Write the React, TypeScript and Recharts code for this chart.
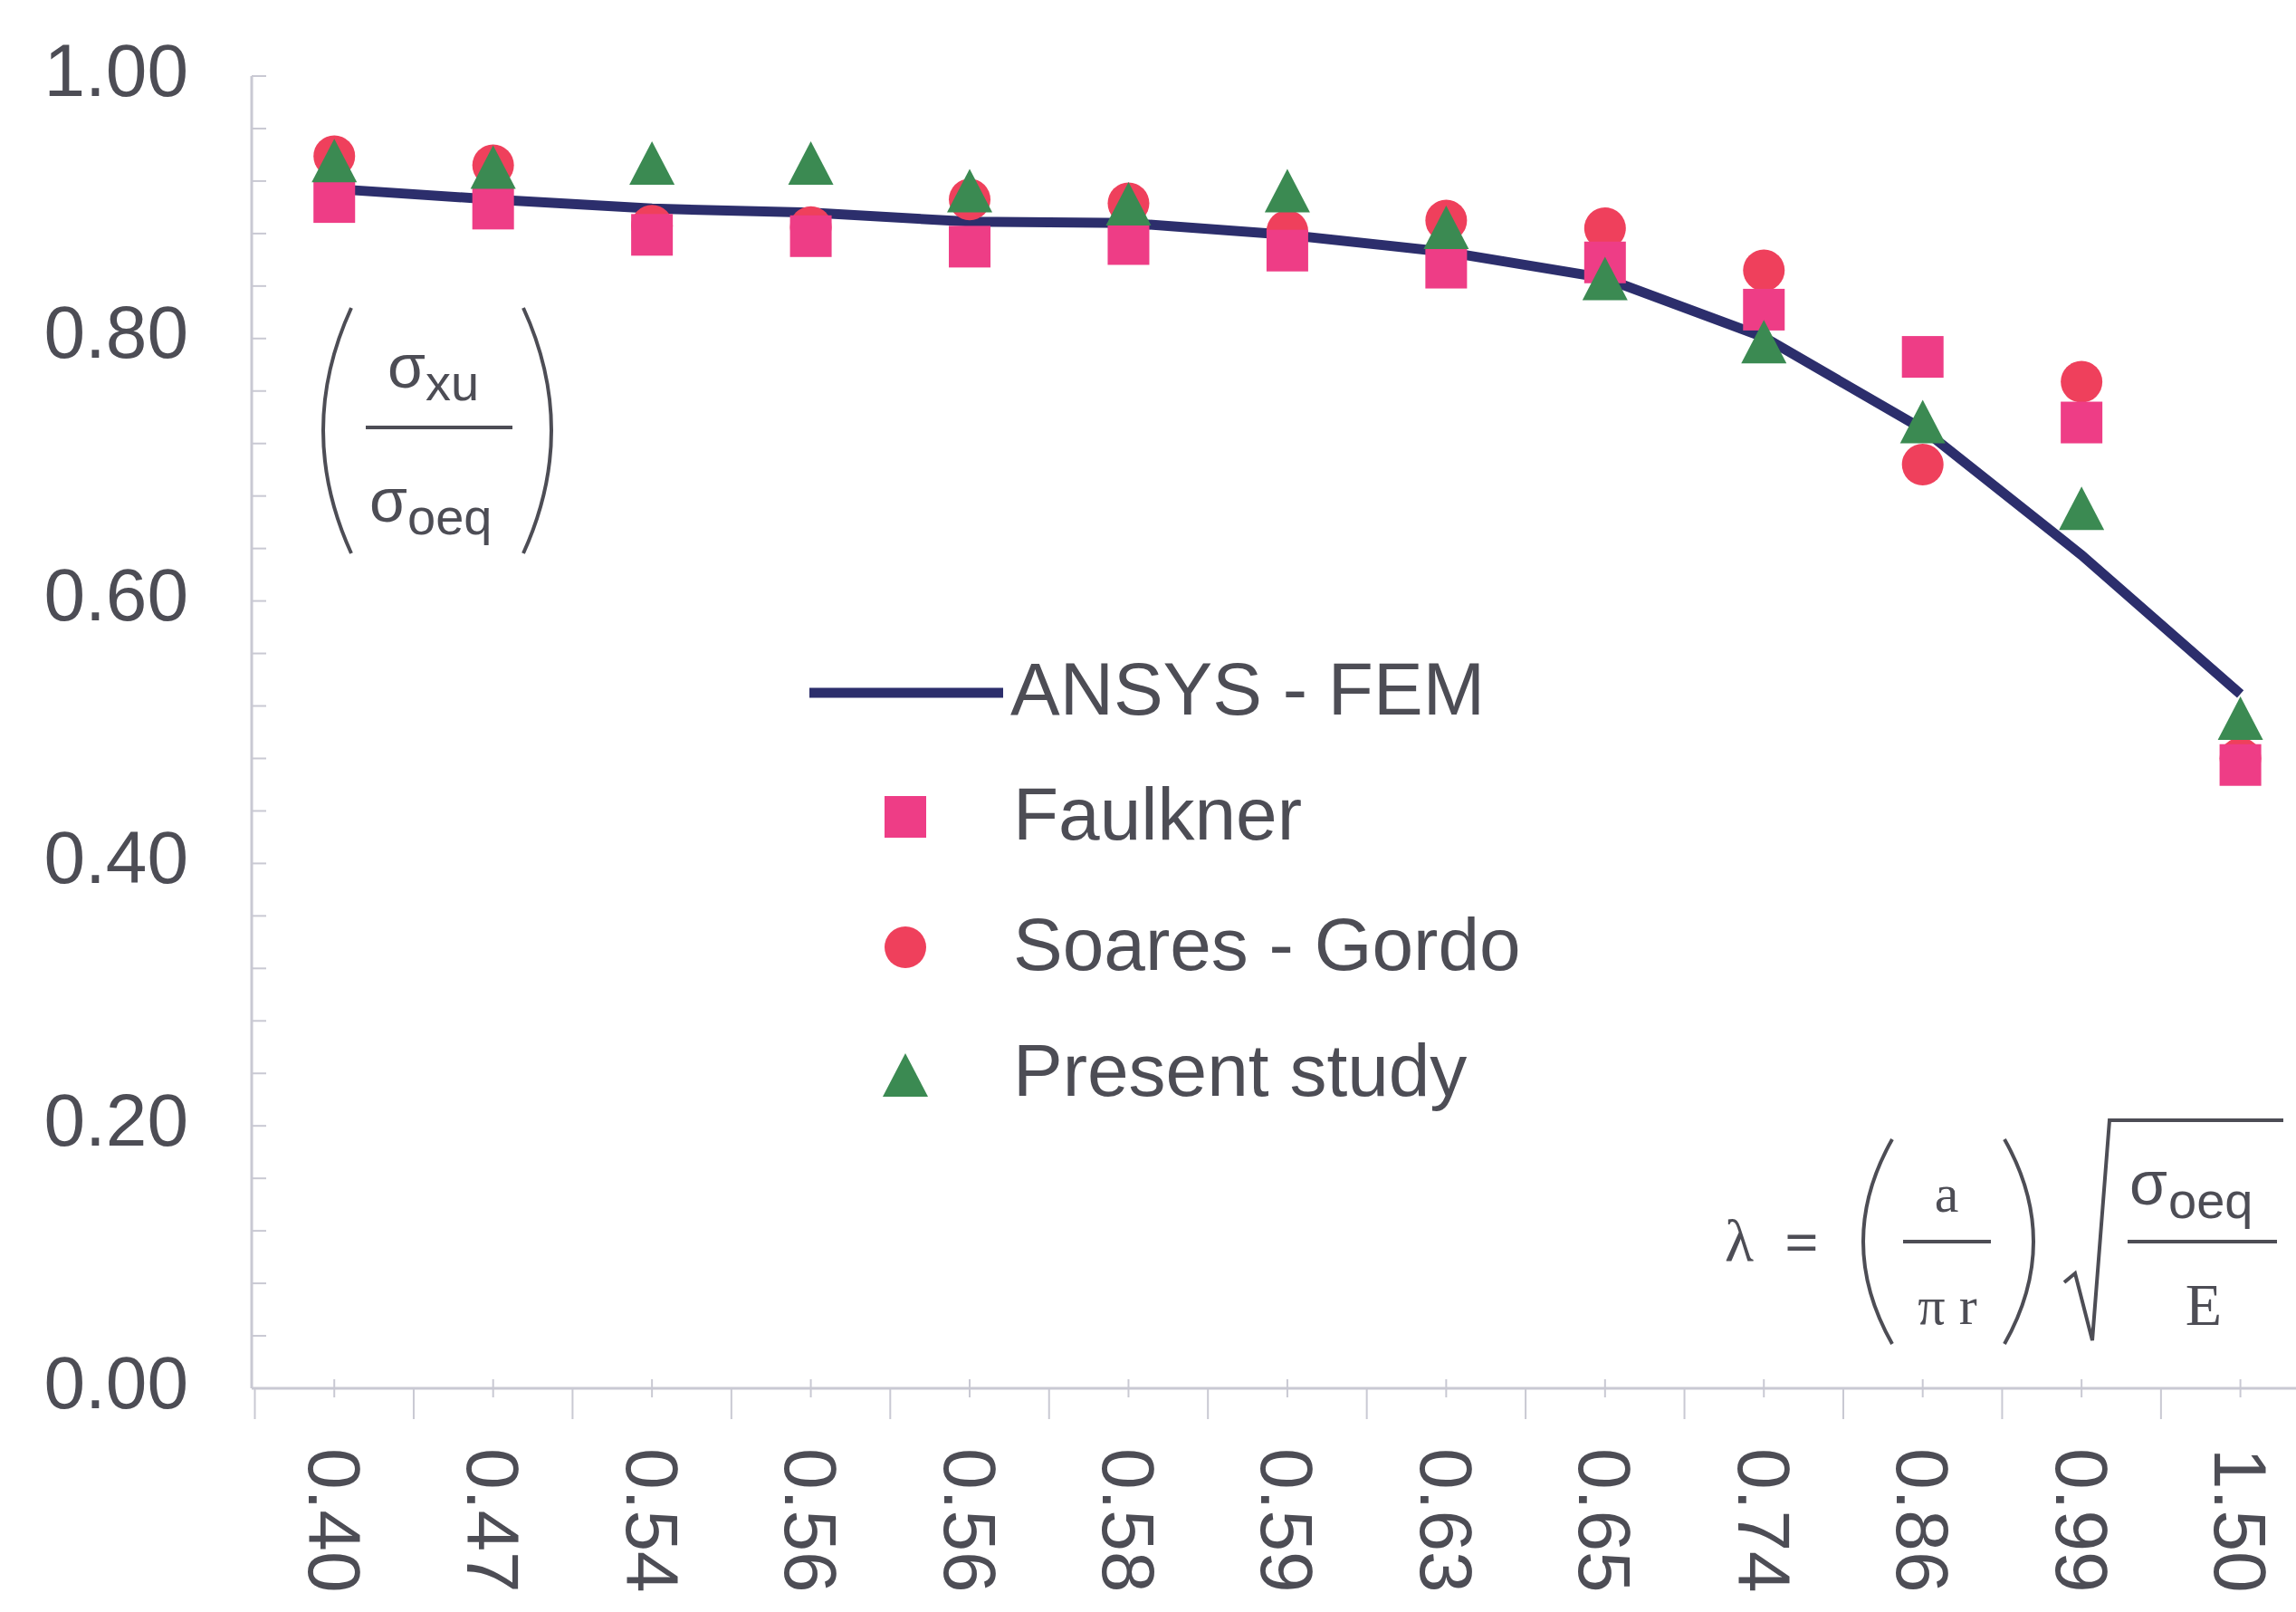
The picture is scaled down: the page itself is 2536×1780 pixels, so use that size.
import React from 'react';
import { ComposedChart, Line, Scatter, XAxis, YAxis } from 'recharts';

// slenderness values along the x axis (categorical, two 0.56 entries)
const CATEGORIES = ['0.40', '0.47', '0.54', '0.56', '0.56', '0.58', '0.59', '0.63', '0.65', '0.74', '0.86', '0.99', '1.50'];

const ANSYS = [0.914, 0.906, 0.899, 0.896, 0.889, 0.888, 0.879, 0.866, 0.846, 0.801, 0.731, 0.635, 0.529];
const FAULKNER = [0.904, 0.899, 0.879, 0.878, 0.870, 0.872, 0.867, 0.854, 0.858, 0.822, 0.786, 0.736, 0.475];
const SOARES = [0.939, 0.932, 0.886, 0.885, 0.906, 0.903, 0.882, 0.890, 0.884, 0.852, 0.704, 0.767, 0.480];
const PRESENT = [0.935, 0.930, 0.933, 0.933, 0.912, 0.902, 0.912, 0.884, 0.845, 0.797, 0.736, 0.670, 0.510];

const Y_MAJOR = [0, 0.2, 0.4, 0.6, 0.8, 1.0];
const Y_MINOR_STEP = 0.04;

const W = 2536;
const H = 1780;

const NAVY = '#2c2e6c';
const PINK = '#ee3d86';
const RED = '#ef405c';
const GREEN = '#3b8a52';
const TEXT = '#4d4d55';
const AXIS = '#c9c9d3';
const FONT = '"Liberation Sans", Arial, sans-serif';
const SERIF = '"Liberation Serif", "Times New Roman", serif';

const data = CATEGORIES.map((label, i) => ({
  idx: i,
  label,
  ansys: ANSYS[i],
  faulkner: FAULKNER[i],
  soares: SOARES[i],
  present: PRESENT[i],
}));

const yTicks: number[] = [];
for (let k = 0; k <= Math.round(1 / Y_MINOR_STEP); k++) yTicks.push(+(k * Y_MINOR_STEP).toFixed(2));

// integer positions carry a label, half positions are the band boundaries
const xTicks: number[] = [];
for (let i = 0; i < CATEGORIES.length; i++) {
  xTicks.push(i - 0.5);
  xTicks.push(i);
}

const isMajor = (v: number) => Y_MAJOR.some((m) => Math.abs(m - v) < 1e-6);

const YTick = ({ x, y, payload }: any) => (
  <g>
    <line x1={x} y1={y} x2={x + 16} y2={y} stroke={AXIS} strokeWidth={2} />
    {isMajor(payload.value) && (
      <text x={x - 70} y={y - 7} textAnchor="end" dominantBaseline="central" fontFamily={FONT} fontSize={82} fill={TEXT}>
        {payload.value.toFixed(2)}
      </text>
    )}
  </g>
);

const XTick = ({ x, y, payload }: any) => {
  const v = payload.value;
  if (!Number.isInteger(v)) {
    return <line x1={x} y1={y} x2={x} y2={y + 34} stroke={AXIS} strokeWidth={2} />;
  }
  const ty = y + 66;
  return (
    <g>
      <line x1={x} y1={y - 10} x2={x} y2={y + 10} stroke={AXIS} strokeWidth={2} />
      <text
        x={x}
        y={ty}
        transform={`rotate(90, ${x}, ${ty})`}
        textAnchor="start"
        dominantBaseline="central"
        fontFamily={FONT}
        fontSize={82}
        fill={TEXT}
      >
        {CATEGORIES[v]}
      </text>
    </g>
  );
};

const SquareMark = ({ cx, cy }: any) => <rect x={cx - 23} y={cy - 23} width={46} height={46} fill={PINK} />;
const CircleMark = ({ cx, cy }: any) => <circle cx={cx} cy={cy} r={23} fill={RED} />;
const TriangleMark = ({ cx, cy }: any) => (
  <polygon points={`${cx},${cy - 25} ${cx - 25},${cy + 23} ${cx + 25},${cy + 23}`} fill={GREEN} />
);

const Overlay = () => (
  <svg width={W} height={H} style={{ position: 'absolute', left: 0, top: 0, pointerEvents: 'none' }}>
    {/* y axis label: sigma_xu / sigma_oeq */}
    <g fill={TEXT} stroke="none" fontFamily={FONT}>
      <path d="M 388 340 Q 326 475 388 611" fill="none" stroke={TEXT} strokeWidth={4} />
      <path d="M 578 340 Q 640 475 578 611" fill="none" stroke={TEXT} strokeWidth={4} />
      <text x={428} y={428} fontSize={68}>σ</text>
      <text x={470} y={442} fontSize={56}>xu</text>
      <line x1={404} y1={472} x2={566} y2={472} stroke={TEXT} strokeWidth={4} />
      <text x={408} y={576} fontSize={68}>σ</text>
      <text x={450} y={590} fontSize={56}>oeq</text>
    </g>

    {/* slenderness definition */}
    <g fill={TEXT} fontFamily={SERIF}>
      <text x={1921} y={1392} fontSize={66} textAnchor="middle">λ</text>
      <text x={1990} y={1394} fontSize={66} textAnchor="middle" fontWeight="bold">=</text>
      <path d="M 2090 1258 Q 2026 1371 2090 1484" fill="none" stroke={TEXT} strokeWidth={4} />
      <path d="M 2214 1258 Q 2278 1371 2214 1484" fill="none" stroke={TEXT} strokeWidth={4} />
      <text x={2150} y={1338} fontSize={60} textAnchor="middle">a</text>
      <line x1={2102} y1={1371} x2={2199} y2={1371} stroke={TEXT} strokeWidth={4} />
      <text x={2151} y={1462} fontSize={60} textAnchor="middle">π r</text>
      <path d="M 2280 1416 L 2292 1406 L 2311 1480 L 2330 1237 L 2522 1237" fill="none" stroke={TEXT} strokeWidth={4} />
      <text x={2352} y={1330} fontSize={68} fontFamily={FONT}>σ</text>
      <text x={2395} y={1345} fontSize={56} fontFamily={FONT}>oeq</text>
      <line x1={2350} y1={1371} x2={2515} y2={1371} stroke={TEXT} strokeWidth={4} />
      <text x={2434} y={1463} fontSize={66} textAnchor="middle">E</text>
    </g>

    {/* legend */}
    <g fontFamily={FONT} fontSize={82} fill={TEXT}>
      <line x1={894} y1={765} x2={1108} y2={765} stroke={NAVY} strokeWidth={11} />
      <text x={1116} y={789}>ANSYS - FEM</text>
      <SquareMark cx={1000} cy={902} />
      <text x={1119} y={927}>Faulkner</text>
      <CircleMark cx={1000} cy={1046} />
      <text x={1119} y={1071}>Soares - Gordo</text>
      <TriangleMark cx={1000} cy={1188} />
      <text x={1119} y={1210}>Present study</text>
    </g>
  </svg>
);

export default function App() {
  return (
    <div style={{ position: 'absolute', left: 0, top: 0, width: W, height: H, background: '#fff' }}>
      <ComposedChart width={W} height={H} data={data} margin={{ top: 84, right: 0, bottom: 0, left: 0 }}>
        <XAxis
          type="number"
          dataKey="idx"
          domain={[-0.52, 12.35]}
          ticks={xTicks}
          interval={0}
          allowDataOverflow
          height={247}
          axisLine={{ stroke: AXIS, strokeWidth: 3 }}
          tickLine={false}
          tickSize={0}
          tickMargin={0}
          tick={<XTick />}
        />
        <YAxis
          type="number"
          domain={[0, 1]}
          ticks={yTicks}
          interval={0}
          width={278}
          axisLine={{ stroke: AXIS, strokeWidth: 3 }}
          tickLine={false}
          tickSize={0}
          tickMargin={0}
          tick={<YTick />}
        />
        <Scatter dataKey="soares" name="Soares - Gordo" shape={<CircleMark />} isAnimationActive={false} />
        <Scatter dataKey="faulkner" name="Faulkner" shape={<SquareMark />} isAnimationActive={false} />
        <Line
          type="linear"
          dataKey="ansys"
          name="ANSYS - FEM"
          stroke={NAVY}
          strokeWidth={11}
          dot={false}
          activeDot={false}
          isAnimationActive={false}
        />
        <Scatter dataKey="present" name="Present study" shape={<TriangleMark />} isAnimationActive={false} />
      </ComposedChart>
      <Overlay />
    </div>
  );
}
